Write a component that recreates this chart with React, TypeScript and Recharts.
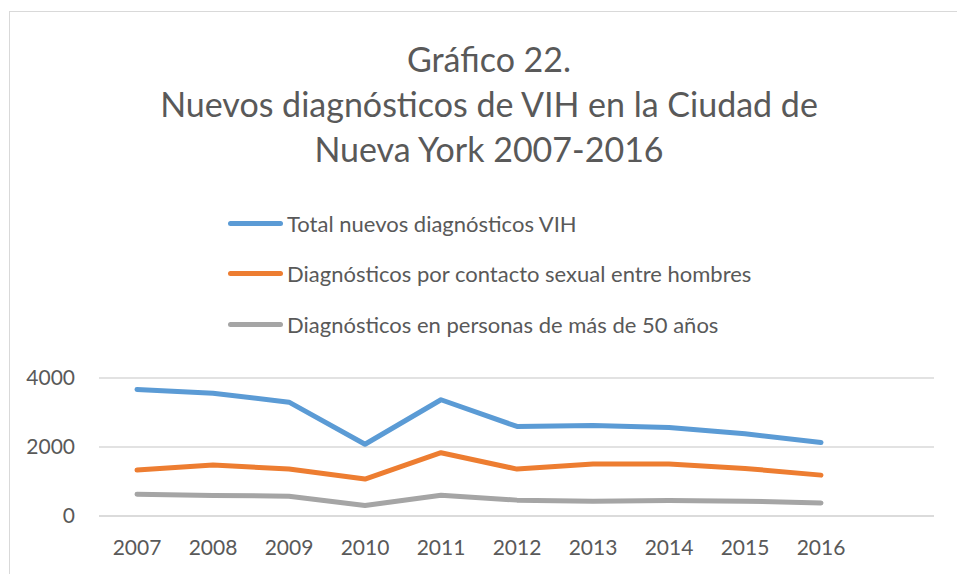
import { LineChart, Line, XAxis, YAxis, CartesianGrid } from "recharts";

const YEARS = ["2007", "2008", "2009", "2010", "2011", "2012", "2013", "2014", "2015", "2016"];
const TOTAL = [3670, 3560, 3300, 2080, 3370, 2595, 2625, 2565, 2385, 2130];
const HSH = [1330, 1480, 1360, 1070, 1835, 1360, 1505, 1505, 1380, 1185];
const MAYORES_50 = [630, 595, 575, 305, 600, 460, 430, 450, 430, 380];
const Y_TICKS = [0, 2000, 4000];

const SERIES = [
  { key: "total", label: "Total nuevos diagnósticos VIH", color: "#5B9BD5" },
  { key: "hsh", label: "Diagnósticos por contacto sexual entre hombres", color: "#ED7D31" },
  { key: "mayores", label: "Diagnósticos en personas de más de 50 años", color: "#A5A5A5" },
];

const TITLE = ["Gráfico 22.", "Nuevos diagnósticos de VIH en la Ciudad de", "Nueva York 2007-2016"];

const data = YEARS.map((year, i) => ({
  year,
  total: TOTAL[i],
  hsh: HSH[i],
  mayores: MAYORES_50[i],
}));

const FONT = "Lato, 'Open Sans', sans-serif";
const TEXT = "#595959";

function LegendRows() {
  return (
    <div
      style={{
        position: "absolute",
        left: 228,
        top: 198,
        fontFamily: FONT,
        color: TEXT,
        fontSize: 22,
      }}
    >
      {SERIES.map((s) => (
        <div key={s.key} style={{ display: "flex", alignItems: "center", height: 50.5 }}>
          <span
            style={{
              display: "inline-block",
              width: 55,
              height: 5,
              borderRadius: 3,
              background: s.color,
              marginRight: 4,
            }}
          />
          <span>{s.label}</span>
        </div>
      ))}
    </div>
  );
}

export default function App() {
  return (
    <div style={{ position: "absolute", left: 0, top: 0, width: 957, height: 574, background: "#fff", overflow: "hidden" }}>
      <div
        style={{
          position: "absolute",
          left: 9,
          top: 11,
          width: 980,
          height: 600,
          border: "1.5px solid #d9d9d9",
        }}
      />
      <div
        style={{
          position: "absolute",
          left: 0,
          top: 36,
          width: 978,
          textAlign: "center",
          fontFamily: FONT,
          fontSize: 34,
          lineHeight: "45px",
          color: TEXT,
        }}
      >
        {TITLE.map((t) => (
          <div key={t}>{t}</div>
        ))}
      </div>
      <LegendRows />
      <LineChart
        width={957}
        height={574}
        data={data}
        margin={{ top: 378, right: 23, bottom: 18, left: 0 }}
        style={{ position: "absolute", left: 0, top: 0 }}
      >
        <CartesianGrid vertical={false} stroke="#d9d9d9" strokeWidth={1.3} />
        <XAxis
          dataKey="year"
          axisLine={{ stroke: "#d9d9d9", strokeWidth: 1.3 }}
          tickLine={false}
          tickMargin={18}
          height={40}
          padding={{ left: 38, right: 113 }}
          tick={{ fill: TEXT, fontSize: 21, fontFamily: FONT }}
        />
        <YAxis
          width={99}
          domain={[0, 4000]}
          ticks={Y_TICKS}
          axisLine={false}
          tickLine={false}
          tickMargin={18}
          tick={{ fill: TEXT, fontSize: 21, fontFamily: FONT }}
        />
        {SERIES.map((s) => (
          <Line
            key={s.key}
            dataKey={s.key}
            name={s.label}
            stroke={s.color}
            strokeWidth={5}
            strokeLinecap="round"
            strokeLinejoin="round"
            dot={false}
            activeDot={false}
            isAnimationActive={false}
          />
        ))}
      </LineChart>
    </div>
  );
}
